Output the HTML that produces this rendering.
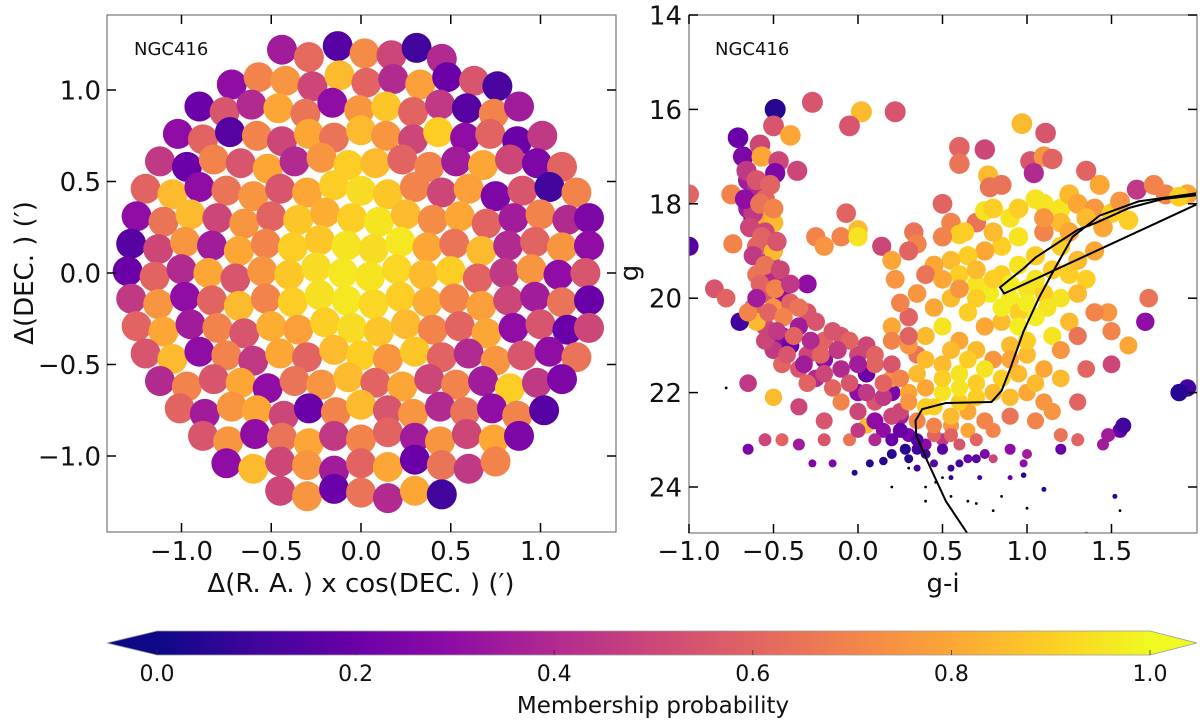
<!DOCTYPE html>
<html><head><meta charset="utf-8"><style>
html,body{margin:0;padding:0;background:#fff;}
svg{display:block;font-family:"DejaVu Sans","Liberation Sans",sans-serif;}
</style></head><body>
<svg id="fig" width="1200" height="723" viewBox="0 0 1200 723" xmlns="http://www.w3.org/2000/svg">
<defs>
<clipPath id="clipL"><rect x="107" y="15" width="509" height="517"/></clipPath>
<clipPath id="clipR"><rect x="689" y="15" width="508" height="518"/></clipPath>
<linearGradient id="plasma" x1="0" x2="1" y1="0" y2="0">
<stop offset="0" stop-color="#0d0887"/><stop offset="0.1" stop-color="#41049d"/><stop offset="0.2" stop-color="#6a00a8"/><stop offset="0.3" stop-color="#8f0da4"/><stop offset="0.4" stop-color="#b12a90"/><stop offset="0.5" stop-color="#cc4778"/><stop offset="0.6" stop-color="#e16462"/><stop offset="0.7" stop-color="#f2844b"/><stop offset="0.8" stop-color="#fca636"/><stop offset="0.9" stop-color="#fcce25"/><stop offset="1" stop-color="#f0f921"/>
</linearGradient>
</defs>
<g id="left"></g>
<g id="right"></g>
<g id="cbar"></g>
</svg>
<script>
// ---------- Left panel data (RA offset, DEC offset, membership probability) ----------
const raVals = [
-0.44,-0.29,-0.13,0.02,0.17,0.31,0.45,
-0.72,-0.57,-0.42,-0.27,-0.12,0.03,0.18,0.33,0.48,0.63,0.76,
-0.9,-0.76,-0.61,-0.46,-0.31,-0.16,-0.01,0.14,0.29,0.44,0.59,0.74,0.88,
-1.02,-0.88,-0.73,-0.58,-0.44,-0.29,-0.15,0.0,0.14,0.29,0.43,0.58,0.72,0.87,1.01,
-1.12,-0.97,-0.82,-0.67,-0.52,-0.37,-0.22,-0.07,0.08,0.23,0.38,0.53,0.68,0.83,0.98,1.12,
-1.2,-1.05,-0.9,-0.75,-0.6,-0.45,-0.3,-0.15,0.0,0.15,0.3,0.45,0.6,0.75,0.9,1.05,1.2,
-1.25,-1.1,-0.95,-0.8,-0.65,-0.5,-0.35,-0.2,-0.05,0.1,0.25,0.4,0.55,0.7,0.85,1.0,1.15,1.27,
-1.28,-1.13,-0.98,-0.83,-0.68,-0.53,-0.38,-0.23,-0.08,0.07,0.22,0.37,0.52,0.67,0.82,0.97,1.12,1.27,
-1.3,-1.15,-1.0,-0.85,-0.7,-0.55,-0.4,-0.25,-0.1,0.05,0.2,0.35,0.5,0.65,0.8,0.95,1.1,1.25,
-1.28,-1.13,-0.98,-0.83,-0.68,-0.53,-0.38,-0.23,-0.08,0.07,0.22,0.37,0.52,0.67,0.82,0.97,1.12,1.27,
-1.25,-1.1,-0.95,-0.8,-0.65,-0.5,-0.35,-0.2,-0.05,0.1,0.25,0.4,0.55,0.7,0.85,1.0,1.15,1.27,
-1.2,-1.05,-0.9,-0.75,-0.6,-0.45,-0.3,-0.15,0.0,0.15,0.3,0.45,0.6,0.75,0.9,1.05,1.2,
-1.12,-0.97,-0.82,-0.67,-0.52,-0.37,-0.22,-0.07,0.08,0.23,0.38,0.53,0.68,0.83,0.98,1.12,
-1.01,-0.87,-0.72,-0.58,-0.43,-0.29,-0.14,0.0,0.15,0.29,0.44,0.58,0.73,0.87,1.02,
-0.88,-0.74,-0.59,-0.44,-0.29,-0.15,0.0,0.15,0.3,0.44,0.59,0.74,0.88,
-0.75,-0.6,-0.45,-0.3,-0.15,0.0,0.15,0.3,0.45,0.6,0.75,
-0.45,-0.3,-0.15,0.0,0.15,0.3,0.45
];
const decVals = [
1.22,1.18,1.24,1.2,1.19,1.23,1.17,
1.03,1.07,1.05,1.02,1.08,1.04,1.06,1.03,1.07,1.05,1.02,
0.91,0.88,0.92,0.9,0.87,0.93,0.89,0.91,0.88,0.92,0.9,0.87,0.91,
0.76,0.73,0.77,0.75,0.72,0.76,0.74,0.78,0.75,0.73,0.77,0.74,0.76,0.72,0.75,
0.61,0.58,0.62,0.6,0.57,0.61,0.63,0.59,0.6,0.62,0.58,0.61,0.59,0.62,0.6,0.58,
0.46,0.43,0.47,0.45,0.42,0.46,0.44,0.48,0.45,0.43,0.47,0.44,0.46,0.42,0.45,0.47,0.44,
0.31,0.28,0.32,0.3,0.27,0.31,0.29,0.33,0.3,0.28,0.32,0.29,0.31,0.27,0.3,0.32,0.29,0.3,
0.16,0.13,0.17,0.15,0.12,0.16,0.14,0.18,0.15,0.13,0.17,0.14,0.16,0.12,0.15,0.17,0.14,0.15,
0.01,-0.02,0.02,0.0,-0.03,0.01,-0.01,0.03,0.0,-0.02,0.02,-0.01,0.01,-0.03,0.0,0.02,-0.01,0.0,
-0.14,-0.17,-0.13,-0.15,-0.18,-0.14,-0.16,-0.12,-0.15,-0.17,-0.13,-0.16,-0.14,-0.18,-0.15,-0.13,-0.16,-0.15,
-0.29,-0.32,-0.28,-0.3,-0.33,-0.29,-0.31,-0.27,-0.3,-0.32,-0.28,-0.31,-0.29,-0.33,-0.3,-0.28,-0.31,-0.3,
-0.44,-0.47,-0.43,-0.45,-0.48,-0.44,-0.46,-0.42,-0.45,-0.47,-0.43,-0.46,-0.44,-0.48,-0.45,-0.43,-0.46,
-0.59,-0.62,-0.58,-0.6,-0.63,-0.59,-0.61,-0.57,-0.6,-0.62,-0.58,-0.61,-0.59,-0.63,-0.6,-0.58,
-0.74,-0.77,-0.73,-0.75,-0.78,-0.74,-0.76,-0.72,-0.75,-0.77,-0.73,-0.76,-0.74,-0.78,-0.75,
-0.89,-0.92,-0.88,-0.9,-0.93,-0.89,-0.91,-0.87,-0.9,-0.92,-0.88,-0.91,-0.89,
-1.04,-1.07,-1.03,-1.05,-1.08,-1.04,-1.06,-1.02,-1.05,-1.07,-1.03,
-1.19,-1.22,-1.18,-1.2,-1.23,-1.19,-1.21
];
const probVals = [
.35,.62,.15,.72,.5,.1,.4,
.3,.7,.75,.5,.85,.6,.4,.78,.2,.55,.12,
.2,.55,.4,.8,.65,.3,.75,.88,.6,.45,.15,.7,.35,
.3,.6,.15,.7,.5,.8,.65,.85,.75,.5,.9,.3,.6,.2,.45,
.45,.2,.7,.55,.8,.4,.75,.9,.85,.6,.7,.35,.8,.5,.25,.6,
.6,.85,.3,.65,.75,.55,.8,.9,.93,.88,.7,.5,.78,.25,.55,.1,.7,
.3,.65,.85,.5,.75,.6,.88,.82,.9,.95,.85,.72,.8,.6,.35,.7,.4,.25,
.15,.5,.75,.35,.8,.7,.9,.88,.95,.93,.96,.8,.65,.85,.4,.6,.75,.3,
.2,.6,.4,.8,.55,.75,.88,.93,.96,.95,.92,.85,.9,.6,.45,.75,.3,.55,
.45,.75,.3,.6,.85,.7,.9,.94,.96,.92,.9,.82,.7,.78,.5,.35,.65,.2,
.6,.8,.35,.7,.55,.82,.78,.9,.93,.88,.85,.7,.6,.8,.3,.55,.2,.5,
.55,.85,.3,.7,.45,.8,.6,.85,.9,.75,.88,.6,.4,.75,.55,.3,.65,
.4,.7,.55,.8,.3,.65,.75,.85,.6,.8,.5,.7,.35,.9,.45,.25,
.6,.35,.75,.8,.5,.2,.7,.85,.55,.75,.4,.65,.3,.7,.15,
.55,.75,.3,.65,.8,.45,.7,.6,.35,.75,.5,.8,.25,
.3,.85,.5,.75,.35,.6,.8,.2,.65,.45,.7,
.5,.75,.2,.65,.4,.8,.1
];
const leftXTicks = [-1.0,-0.5,0.0,0.5,1.0];
const leftXTickLabels = ["\u22121.0","\u22120.5","0.0","0.5","1.0"];
const leftYTicks = [-1.0,-0.5,0.0,0.5,1.0];
const leftYTickLabels = ["\u22121.0","\u22120.5","0.0","0.5","1.0"];

// ---------- Right panel data (g-i colour, g magnitude, membership probability) ----------
const cmdColor = [
-0.49,-0.27,0.02,0.22,-0.05,-0.5,-0.4,-0.71,-0.58,-0.68,-0.57,-0.47,-0.36,-0.49,0.6,0.75,0.6,0.97,1.11,1.02,1.1,1.15,1.04,0.77,0.78,0.85,1.35,1.43,1.65,1.75,1.82,1.95,1.9,-1.0,-1.0,-0.75,-0.74,-0.65,-0.62,-0.56,-0.5,-0.25,-0.1,-0.2,0.0,0.0,-0.07,0.14,0.2,0.33,0.35,0.5,0.55,0.6,0.7,0.75,0.63,
-0.65,-0.6,-0.55,-0.62,-0.55,-0.6,-0.52,-0.5,-0.6,-0.5,-0.55,-0.45,-0.62,-0.5,-0.4,-0.3,-0.35,-0.55,-0.45,-0.6,-0.5,-0.4,-0.3,-0.2,-0.1,-0.2,-0.1,0.0,0.05,-0.35,-0.45,-0.25,-0.15,0.0,0.1,0.2,0.25,0.0,-0.1,-0.2,0.05,0.15,0.3,0.4,0.2,0.5,0.6,0.1,-0.35,-0.5,-0.65,-0.7,-0.85,-0.78,-0.65,-0.3,-0.55,
0.8,0.9,1.05,1.1,1.2,1.25,1.3,1.4,1.5,1.6,1.55,1.45,1.2,1.1,0.95,0.85,0.75,0.65,0.55,0.45,0.6,0.7,0.78,0.9,1.0,1.1,1.12,1.05,0.95,0.85,0.75,0.65,0.55,0.45,0.35,0.3,0.4,0.5,0.6,0.7,0.8,0.9,1.0,1.1,1.2,1.15,1.25,1.25,1.35,1.3,1.4,1.2,1.05,0.95,0.85,0.5,0.4,0.3,0.22,0.25,0.2,0.35,0.5,0.6,0.7,0.8,0.9,1.0,1.1,0.5,0.4,0.3,0.2,0.1,0.65,0.75,0.9,1.05,0.55,0.45,0.35,0.25,0.15,1.2,1.3,1.35,1.5,1.48,1.5,1.6,1.72,1.7,1.95,1.55,1.2,1.3,1.45,
-0.65,-0.55,-0.45,-0.35,-0.2,-0.05,-0.27,-0.15,-0.02,0.07,0.15,0.28,0.35,0.45,0.55,0.65,0.72,0.8,0.9,0.98,0.98,1.1,1.52,1.57,1.35,1.9,1.48,0.75
];
const cmdMag = [
16.0,15.85,16.05,16.05,16.35,16.35,16.55,16.6,16.75,17.0,17.0,17.1,17.3,17.35,16.8,16.85,17.15,16.3,16.5,17.1,17.0,17.05,17.35,17.4,17.65,17.6,17.3,17.6,17.7,17.6,17.8,17.8,17.85,17.8,18.9,17.8,18.85,18.1,18.3,18.4,18.4,18.7,18.7,18.9,18.55,18.7,18.2,18.9,19.2,18.6,18.85,18.0,18.4,18.65,18.4,18.15,18.6,
17.5,17.7,17.9,18.2,18.6,18.9,19.2,19.0,19.5,19.6,19.9,19.9,20.2,20.2,20.1,20.3,20.6,20.6,20.8,20.5,21.1,21.0,21.2,20.9,20.8,21.3,21.5,21.2,21.6,21.5,21.4,21.7,21.9,22.0,22.2,22.0,22.5,22.4,22.2,22.6,22.7,22.8,22.9,23.1,23.0,23.0,23.1,23.0,22.3,22.1,21.8,20.5,19.8,20.0,20.3,19.7,20.9,
18.1,18.3,17.9,18.0,18.1,17.8,18.0,18.1,18.2,18.35,17.95,18.5,18.4,18.6,18.7,18.9,19.0,19.1,19.2,19.3,19.5,19.7,19.9,20.0,19.8,19.9,20.2,20.4,20.3,20.5,20.6,20.3,20.0,20.2,19.9,20.4,20.8,20.6,20.9,21.1,21.3,21.0,21.2,21.5,21.7,20.8,20.5,19.5,19.6,19.2,19.0,18.9,19.1,19.3,19.5,18.7,19.5,19.0,19.6,20.1,20.6,21.2,21.4,21.6,21.8,22.0,22.1,22.0,22.2,22.0,22.3,22.0,21.7,21.4,22.4,22.6,22.5,22.6,22.7,22.9,22.6,22.4,22.1,22.9,22.2,21.5,21.4,20.3,20.7,21.0,20.0,20.5,21.9,22.8,23.2,23.0,23.1,
23.2,23.0,23.0,23.1,23.0,23.0,23.5,23.5,23.7,23.5,23.45,23.2,23.2,23.5,23.6,23.4,23.8,23.4,23.8,23.5,23.75,24.05,24.2,22.7,25.0,22.0,22.9,23.3
];
const cmdProb = [
.05,.55,.85,.55,.55,.55,.8,.2,.5,.25,.8,.5,.5,.25,.6,.5,.65,.85,.55,.55,.75,.6,.4,.85,.65,.65,.6,.8,.45,.7,.7,.8,.9,.6,.15,.7,.7,.35,.2,.8,.85,.7,.7,.75,.85,.95,.6,.5,.8,.65,.7,.6,.7,.9,.65,.95,.9,
.35,.4,.6,.45,.5,.6,.45,.85,.65,.4,.55,.3,.6,.75,.6,.55,.35,.5,.3,.85,.45,.2,.5,.6,.55,.3,.4,.5,.2,.55,.6,.4,.6,.3,.55,.25,.35,.5,.7,.55,.85,.3,.25,.3,.2,.45,.55,.4,.5,.85,.45,.1,.55,.6,.7,.3,.5,
.9,.95,.95,.95,.95,.85,.8,.75,.9,.9,.75,.8,.85,.7,.95,.9,.8,.9,.85,.8,.9,.95,.97,.97,.95,.9,.95,.97,.9,.85,.8,.9,.85,.8,.75,.6,.85,.95,.8,.85,.75,.85,.85,.8,.85,.95,.85,.9,.9,.85,.8,.9,.9,.95,.9,.7,.65,.6,.75,.7,.8,.65,.85,.95,.9,.85,.85,.8,.75,.95,.9,.8,.75,.6,.8,.7,.65,.7,.75,.6,.7,.5,.45,.65,.6,.6,.5,.75,.7,.8,.65,.3,.1,.2,.2,.6,.35,
.25,.5,.6,.35,.55,.65,.25,.25,.05,.05,.05,.05,.1,.15,.1,.2,.1,.5,.2,.3,.05,.05,.05,.1,.3,.05,.35,.25
];
// additional stars filling the main-sequence band and the yellow clump
const cmdColorB = [
-0.66,-0.6,-0.52,-0.67,-0.58,-0.5,-0.64,-0.57,-0.48,-0.62,-0.55,-0.46,-0.58,-0.49,-0.4,-0.6,-0.53,-0.44,-0.35,-0.25,-0.48,-0.38,-0.28,-0.15,-0.05,0.05,-0.42,-0.32,-0.22,-0.12,0.0,0.1,0.2,-0.3,-0.2,-0.05,0.05,0.15,0.25,0.3,0.35,0.4,0.45,0.55,0.6,0.2,0.1,0.0,0.25,0.35,0.45,0.55,0.65,0.7,0.8,0.6,0.7,0.5,0.4,0.3,0.85,0.95,0.75,0.65,0.55,
0.85,0.95,1.0,1.05,0.9,0.8,0.7,1.15,1.2,1.0,0.9,1.05,1.15,0.8,0.95,1.35,1.25,1.1,0.7,0.6,0.5,1.3,1.4,1.3,1.2,0.3,0.2,
0.2,0.3,0.4,0.5,0.6,0.7,0.35,0.55,0.9,1.0
];
const cmdMagB = [
17.3,17.5,17.6,17.9,18.0,18.1,18.5,18.7,18.8,19.1,19.3,19.4,19.7,19.8,19.7,20.0,20.3,20.4,20.2,20.5,20.7,20.8,20.9,20.7,20.9,21.0,21.2,21.4,21.2,21.1,21.4,21.2,21.4,21.8,21.6,21.8,22.0,21.8,21.7,22.2,21.6,21.9,22.3,22.5,22.2,22.5,22.6,22.8,22.8,23.0,22.7,22.9,22.8,23.0,22.8,21.9,22.1,21.7,21.3,21.0,21.7,21.6,21.5,21.3,21.1,
20.2,20.6,20.1,19.6,19.7,19.6,19.4,19.4,20.0,20.9,21.3,21.8,22.4,18.6,18.1,18.3,18.6,18.3,20.0,19.8,19.6,19.9,20.3,20.8,21.1,20.8,20.9,
23.3,23.4,23.3,23.2,23.5,23.4,23.6,23.8,23.2,23.3
];
const cmdProbB = [
.45,.55,.6,.3,.65,.7,.5,.6,.55,.45,.65,.5,.6,.7,.45,.35,.6,.7,.65,.55,.45,.6,.4,.55,.6,.5,.55,.35,.6,.45,.35,.6,.55,.6,.5,.55,.45,.6,.7,.75,.85,.8,.9,.85,.9,.5,.3,.45,.2,.15,.7,.6,.8,.6,.7,.95,.9,.9,.85,.75,.9,.85,.95,.9,.85,
.97,.97,.97,.95,.97,.9,.85,.9,.95,.9,.8,.85,.75,.85,.9,.85,.8,.75,.9,.75,.8,.85,.7,.65,.75,.6,.7,
.05,.05,.1,.15,.1,.15,.1,.05,.3,.35
];
const faintColor = [-0.78,0.2,0.4,0.5,0.55,0.65,0.7,0.8,0.85,1.0,1.55,0.4,0.3,0.46];
const faintMag = [21.9,24.0,24.3,23.8,24.2,24.3,24.35,24.5,24.2,24.45,24.5,24.0,23.6,23.9];
const isoMainColor = [0.65,0.52,0.41,0.345,0.34,0.38,0.52,0.79,0.85,0.9,0.98,1.07,1.16,1.27,1.43,1.66,2.0];
const isoMainMag = [25.0,24.3,23.45,22.9,22.6,22.35,22.22,22.2,21.96,21.5,20.7,20.0,19.4,18.7,18.25,17.95,17.78];
const isoLoopColor = [2.0,0.865,0.84,0.98,1.05,1.3,1.41,1.61,1.8,2.0];
const isoLoopMag = [18.02,19.9,19.77,19.37,19.14,18.55,18.4,18.08,17.9,17.82];
const rightXTicks = [-1.0,-0.5,0.0,0.5,1.0,1.5];
const rightXTickLabels = ["\u22121.0","\u22120.5","0.0","0.5","1.0","1.5"];
const rightYTicks = [14,16,18,20,22,24];
const rightYTickLabels = ["14","16","18","20","22","24"];

// ---------- Colorbar ----------
const cbarTicks = [0.0,0.2,0.4,0.6,0.8,1.0];
const cbarTickLabels = ["0.0","0.2","0.4","0.6","0.8","1.0"];

const NS = "http://www.w3.org/2000/svg";
function mk(tag, attrs, parent){ const e=document.createElementNS(NS,tag); for(const k in attrs) e.setAttribute(k,attrs[k]); parent.appendChild(e); return e; }

const stops=[[13,8,135],[65,4,157],[106,0,168],[143,13,164],[177,42,144],[204,71,120],[225,100,98],[242,132,75],[252,166,54],[252,206,37],[240,249,33]];
function plasma(p){ p=Math.max(0,Math.min(1,p)); const t=p*10; const i=Math.min(9,Math.floor(t)); const f=t-i; const a=stops[i], b=stops[i+1];
  return "rgb("+[0,1,2].map(k=>Math.round(a[k]+(b[k]-a[k])*f)).join(",")+")"; }

// axis functions
const Lx = v => 361 + v*179.5;
const Ly = v => 273 - v*183;
const Rx = v => 858 + v*169;
const Ry = v => 15 + (v-14)*47.2;

// ----- left panel -----
const left=document.getElementById('left');
const lpts=mk('g',{'clip-path':'url(#clipL)'},left);


for(let i=0;i<raVals.length;i++){
  const c=mk('circle',{cx:Lx(raVals[i]).toFixed(1),cy:Ly(decVals[i]).toFixed(1),r:15,fill:plasma(probVals[i])},lpts);
  
  
}
function frame(g,x0,y0,x1,y1,name){
  const r=mk('rect',{x:x0,y:y0,width:x1-x0,height:y1-y0,fill:'none',stroke:'#777','stroke-width':1.2},g);
  
  
}
frame(left,107,15,616,532,'left-plot-frame');
leftXTicks.forEach((v,i)=>{
  const x=Lx(v);
  mk('line',{x1:x,x2:x,y1:532,y2:523,stroke:'#000','stroke-width':1.5},left);
  mk('line',{x1:x,x2:x,y1:15,y2:24,stroke:'#000','stroke-width':1.5},left);
  const t=mk('text',{x:x,y:560,'font-size':26,'text-anchor':'middle',fill:'#111'},left); t.textContent=leftXTickLabels[i];
  
  
});
leftYTicks.forEach((v,i)=>{
  const y=Ly(v);
  mk('line',{x1:107,x2:116,y1:y,y2:y,stroke:'#000','stroke-width':1.5},left);
  mk('line',{x1:616,x2:607,y1:y,y2:y,stroke:'#000','stroke-width':1.5},left);
  const t=mk('text',{x:101,y:y+9.5,'font-size':26,'text-anchor':'end',fill:'#111'},left); t.textContent=leftYTickLabels[i];
  
  
});
let tt=mk('text',{x:134,y:55,'font-size':18,fill:'#111'},left); tt.textContent='NGC416';


tt=mk('text',{x:361,y:592,'font-size':26,'text-anchor':'middle',fill:'#111'},left); tt.textContent='\u0394(R. A. ) x cos(DEC. ) (\u2032)';


tt=mk('text',{x:0,y:0,'font-size':26,'text-anchor':'middle',fill:'#111',transform:'translate(33,273) rotate(-90)'},left); tt.textContent='\u0394(DEC. ) (\u2032)';



// ----- right panel -----
const right=document.getElementById('right');
const rpts=mk('g',{'clip-path':'url(#clipR)'},right);


function sizeFor(g){ return g<22.6 ? 10.5-0.3*(g-16) : Math.max(2.5,8.5-5*(g-22.6)); }
function drawCmd(xs,gs,ps){
  for(let i=0;i<xs.length;i++){
    const c=mk('circle',{cx:Rx(xs[i]).toFixed(1),cy:Ry(gs[i]).toFixed(1),r:sizeFor(gs[i]).toFixed(1),fill:plasma(ps[i])},rpts);
    
    
  }
}
drawCmd(cmdColor,cmdMag,cmdProb);
drawCmd(cmdColorB,cmdMagB,cmdProbB);
for(let i=0;i<faintColor.length;i++){
  const c=mk('circle',{cx:Rx(faintColor[i]).toFixed(1),cy:Ry(faintMag[i]).toFixed(1),r:1.4,fill:'#000'},rpts);
  
  
}
const iso1=mk('polyline',{points:isoMainColor.map((v,i)=>Rx(v).toFixed(1)+','+Ry(isoMainMag[i]).toFixed(1)).join(' '),fill:'none',stroke:'#000','stroke-width':2},rpts);


const iso2=mk('polyline',{points:isoLoopColor.map((v,i)=>Rx(v).toFixed(1)+','+Ry(isoLoopMag[i]).toFixed(1)).join(' '),fill:'none',stroke:'#000','stroke-width':2},rpts);


frame(right,689,15,1197,533,'right-plot-frame');
rightXTicks.forEach((v,i)=>{
  const x=Rx(v);
  mk('line',{x1:x,x2:x,y1:533,y2:524,stroke:'#000','stroke-width':1.5},right);
  mk('line',{x1:x,x2:x,y1:15,y2:24,stroke:'#000','stroke-width':1.5},right);
  const t=mk('text',{x:x,y:560,'font-size':26,'text-anchor':'middle',fill:'#111'},right); t.textContent=rightXTickLabels[i];
  
  
});
rightYTicks.forEach((v,i)=>{
  const y=Ry(v);
  mk('line',{x1:689,x2:698,y1:y,y2:y,stroke:'#000','stroke-width':1.5},right);
  mk('line',{x1:1197,x2:1188,y1:y,y2:y,stroke:'#000','stroke-width':1.5},right);
  const t=mk('text',{x:682,y:y+9.5,'font-size':26,'text-anchor':'end',fill:'#111'},right); t.textContent=rightYTickLabels[i];
  
  
});
tt=mk('text',{x:715,y:55,'font-size':18,fill:'#111'},right); tt.textContent='NGC416';


tt=mk('text',{x:943,y:592,'font-size':26,'text-anchor':'middle',fill:'#111'},right); tt.textContent='g-i';


tt=mk('text',{x:0,y:0,'font-size':26,'text-anchor':'middle',fill:'#111',transform:'translate(638,273) rotate(-90)'},right); tt.textContent='g';



// ----- colorbar -----
const cb=document.getElementById('cbar');
const cx0=157, cx1=1150;
const cbx = v => cx0 + v*(cx1-cx0);
const body=mk('rect',{x:cx0,y:631,width:cx1-cx0,height:24,fill:'url(#plasma)'},cb);


const lt=mk('polygon',{points:'157,631 107,643 157,655',fill:'#0d0887'},cb);


const rt=mk('polygon',{points:'1150,631 1197,643 1150,655',fill:'#f0f921'},cb);


mk('polygon',{points:'157,631 1150,631 1197,643 1150,655 157,655 107,643',fill:'none',stroke:'#999','stroke-width':0.8},cb);
cbarTicks.forEach((v,i)=>{
  const x=cbx(v);
  mk('line',{x1:x,x2:x,y1:655,y2:650,stroke:'#333','stroke-width':0.8},cb);
  const t=mk('text',{x:x,y:681,'font-size':22,'text-anchor':'middle',fill:'#111'},cb); t.textContent=cbarTickLabels[i];
  
  
});
tt=mk('text',{x:653,y:713,'font-size':23,'text-anchor':'middle',fill:'#111'},cb); tt.textContent='Membership probability';


</script>
</body></html>
